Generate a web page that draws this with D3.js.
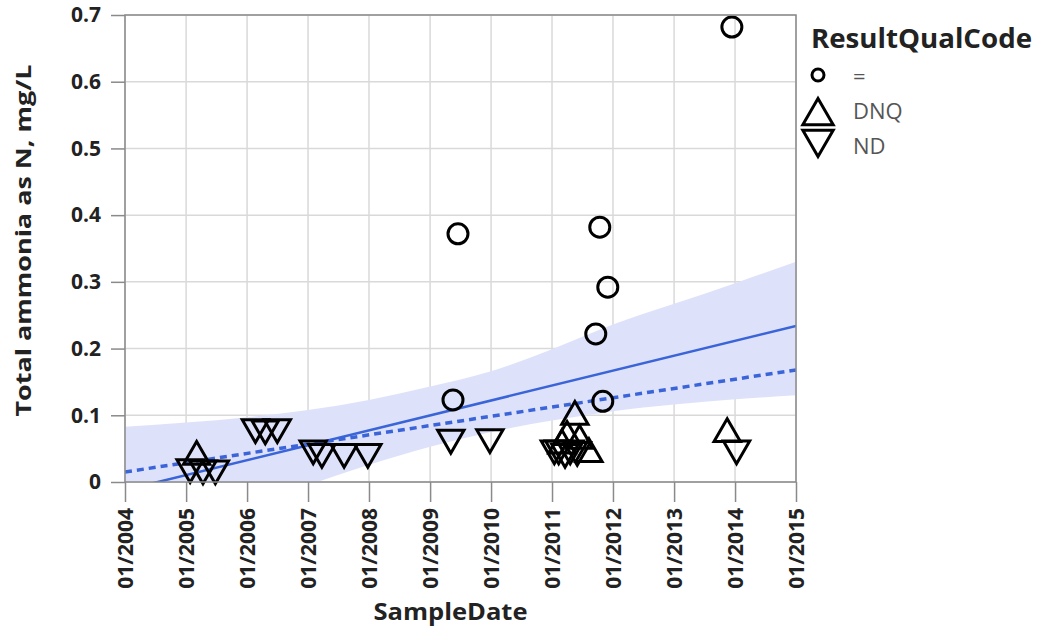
<!DOCTYPE html>
<html>
<head>
<meta charset="utf-8">
<script src="https://cdn.jsdelivr.net/npm/d3@7"></script>
<style>
  body { margin: 0; background: #fff; }
  svg { font-family: "Open Sans", sans-serif; }
</style>
</head>
<body>
<svg id="chart" width="1042" height="634"></svg>
<script>
// sample points, grouped by ResultQualCode
const eqDates = ["2009-05-18", "2009-06-17", "2011-09-20", "2011-10-14", "2011-11-01", "2011-12-01", "2013-12-13"];
const eqValues = [0.123, 0.372, 0.222, 0.382, 0.121, 0.292, 0.682];

const dnqDates = ["2005-03-05", "2011-03-01", "2011-04-01", "2011-05-18", "2011-06-15", "2011-08-10", "2013-11-15"];
const dnqValues = [0.038, 0.055, 0.068, 0.098, 0.062, 0.042, 0.072];

const ndDates = ["2005-01-25", "2005-04-12", "2005-06-25",
                 "2006-02-20", "2006-04-20", "2006-07-01",
                 "2007-02-01", "2007-03-25", "2007-08-05", "2007-12-25",
                 "2009-05-05", "2009-12-25",
                 "2011-01-15", "2011-02-10", "2011-03-20", "2011-04-20", "2011-06-01",
                 "2014-01-10"];
const ndValues = [0.022, 0.02, 0.02,
                  0.082, 0.08, 0.082,
                  0.05, 0.045, 0.045, 0.045,
                  0.066, 0.067,
                  0.05, 0.05, 0.045, 0.05, 0.048,
                  0.05];

// trend lines and confidence band
const trendDates = ["2004-01-01", "2015-01-01"];
const trendSolid = [-0.012, 0.234];
const trendDashed = [0.015, 0.168];

const bandDates = ["2004-01-01", "2005-01-01", "2006-01-01", "2007-01-01", "2008-01-01", "2009-01-01",
                   "2010-01-01", "2011-01-01", "2012-01-01", "2013-01-01", "2014-01-01", "2015-01-01"];
const bandUpper = [0.083, 0.089, 0.097, 0.108, 0.123, 0.143, 0.166, 0.199, 0.236, 0.267, 0.298, 0.33];
const bandLower = [-0.11, -0.075, -0.04, -0.005, 0.026, 0.053, 0.075, 0.092, 0.106, 0.116, 0.124, 0.13];

const yTicks = [0, 0.1, 0.2, 0.3, 0.4, 0.5, 0.6, 0.7];
const legendKeys = ["=", "DNQ", "ND"];

const parse = d3.timeParse("%Y-%m-%d");
const svg = d3.select("#chart");

const margin = { top: 15, right: 246, bottom: 152, left: 125 };
const width = 1042 - margin.left - margin.right;
const height = 634 - margin.top - margin.bottom;

const x = d3.scaleTime()
    .domain([parse("2004-01-01"), parse("2015-01-01")])
    .range([0, width]);
const y = d3.scaleLinear().domain([0, 0.7]).range([height, 0]);

const g = svg.append("g").attr("transform", `translate(${margin.left},${margin.top})`);

svg.append("defs").append("clipPath").attr("id", "plotClip")
    .append("rect").attr("width", width).attr("height", height);

const xTicks = d3.range(2004, 2016).map(yr => new Date(yr, 0, 1));

// grid
g.append("g").selectAll("line").data(xTicks).join("line")
    .attr("x1", d => x(d)).attr("x2", d => x(d))
    .attr("y1", 0).attr("y2", height)
    .attr("stroke", "#d9d9d9").attr("stroke-width", 1.5);
g.append("g").selectAll("line").data(yTicks).join("line")
    .attr("x1", 0).attr("x2", width)
    .attr("y1", d => y(d)).attr("y2", d => y(d))
    .attr("stroke", "#d9d9d9").attr("stroke-width", 1.5);

const plot = g.append("g").attr("clip-path", "url(#plotClip)");

const band = bandDates.map((d, i) => ({ date: parse(d), lo: bandLower[i], hi: bandUpper[i] }));
plot.append("path")
    .datum(band)
    .attr("fill", "#dde2fa")
    .attr("d", d3.area().x(d => x(d.date)).y0(d => y(d.lo)).y1(d => y(d.hi)).curve(d3.curveMonotoneX));

const line = d3.line().x(d => x(d.date)).y(d => y(d.v));
plot.append("path")
    .datum(trendDates.map((d, i) => ({ date: parse(d), v: trendSolid[i] })))
    .attr("fill", "none").attr("stroke", "#3a64d8").attr("stroke-width", 2.5)
    .attr("d", line);
plot.append("path")
    .datum(trendDates.map((d, i) => ({ date: parse(d), v: trendDashed[i] })))
    .attr("fill", "none").attr("stroke", "#3a64d8").attr("stroke-width", 3.5)
    .attr("stroke-dasharray", "7,5")
    .attr("d", line);

// markers
const triUp = d3.symbol().type(d3.symbolTriangle).size(300);

g.append("g").selectAll("path").data(ndDates.map((d, i) => [parse(d), ndValues[i]])).join("path")
    .attr("d", triUp)
    .attr("transform", d => `translate(${x(d[0])},${y(d[1])}) rotate(180)`)
    .attr("fill", "none").attr("stroke", "#000").attr("stroke-width", 3);

g.append("g").selectAll("path").data(dnqDates.map((d, i) => [parse(d), dnqValues[i]])).join("path")
    .attr("d", triUp)
    .attr("transform", d => `translate(${x(d[0])},${y(d[1])})`)
    .attr("fill", "none").attr("stroke", "#000").attr("stroke-width", 3);

g.append("g").selectAll("circle").data(eqDates.map((d, i) => [parse(d), eqValues[i]])).join("circle")
    .attr("cx", d => x(d[0])).attr("cy", d => y(d[1])).attr("r", 10)
    .attr("fill", "none").attr("stroke", "#000").attr("stroke-width", 3);

// frame
g.append("rect").attr("width", width).attr("height", height)
    .attr("fill", "none").attr("stroke", "#8a8a8a").attr("stroke-width", 1.5);

// axes
const yAxis = g.append("g")
    .call(d3.axisLeft(y).tickValues(yTicks).tickSize(14).tickPadding(10).tickFormat(d => d === 0 ? "0" : d3.format(".1f")(d)));
yAxis.attr("font-family", "Open Sans");
yAxis.select(".domain").remove();
yAxis.selectAll("line").attr("stroke", "#8a8a8a").attr("stroke-width", 1.5);
yAxis.selectAll("text").attr("font-size", 21).attr("font-weight", "bold").attr("fill", "#222");

const xAxis = g.append("g").attr("transform", `translate(0,${height})`)
    .call(d3.axisBottom(x).tickValues(xTicks).tickSize(20).tickFormat(d3.timeFormat("%m/%Y")));
xAxis.attr("font-family", "Open Sans");
xAxis.select(".domain").remove();
xAxis.selectAll("line").attr("stroke", "#8a8a8a").attr("stroke-width", 1.5);
xAxis.selectAll("text")
    .attr("font-size", 21).attr("font-weight", "bold").attr("fill", "#222")
    .attr("transform", "rotate(-90)")
    .attr("text-anchor", "end")
    .attr("x", -26).attr("y", 0).attr("dy", "0.35em");

g.append("text")
    .attr("x", width / 2 - 10).attr("y", height + 138)
    .attr("text-anchor", "middle")
    .attr("font-size", 24).attr("font-weight", "bold").attr("fill", "#222")
    .attr("textLength", 154).attr("lengthAdjust", "spacingAndGlyphs")
    .text("SampleDate");

g.append("text")
    .attr("transform", "rotate(-90)")
    .attr("x", -height / 2 + 8).attr("y", -94)
    .attr("text-anchor", "middle")
    .attr("font-size", 22).attr("font-weight", "bold").attr("fill", "#222")
    .attr("textLength", 352).attr("lengthAdjust", "spacingAndGlyphs")
    .text("Total ammonia as N, mg/L");

// legend
const legend = svg.append("g").attr("transform", "translate(811,0)");
legend.append("text").attr("x", 0).attr("y", 48)
    .attr("font-size", 26).attr("font-weight", "bold").attr("fill", "#222")
    .attr("textLength", 221).attr("lengthAdjust", "spacingAndGlyphs")
    .text("ResultQualCode");

const legendY = [75, 110, 145];
const bigTri = d3.symbol().type(d3.symbolTriangle).size(400);
legendKeys.forEach((k, i) => {
    const item = legend.append("g").attr("transform", `translate(7,${legendY[i]})`);
    if (k === "=") {
        item.append("circle").attr("r", 6).attr("fill", "none").attr("stroke", "#000").attr("stroke-width", 3);
    } else {
        item.append("path").attr("d", bigTri)
            .attr("transform", k === "ND" ? "translate(0,-6) rotate(180)" : "translate(0,6)")
            .attr("fill", "none").attr("stroke", "#000").attr("stroke-width", 3);
    }
    item.append("text").attr("x", 35).attr("y", 1).attr("dy", "0.35em")
        .attr("font-size", 22).attr("fill", "#555")
        .text(k);
});
</script>
</body>
</html>
